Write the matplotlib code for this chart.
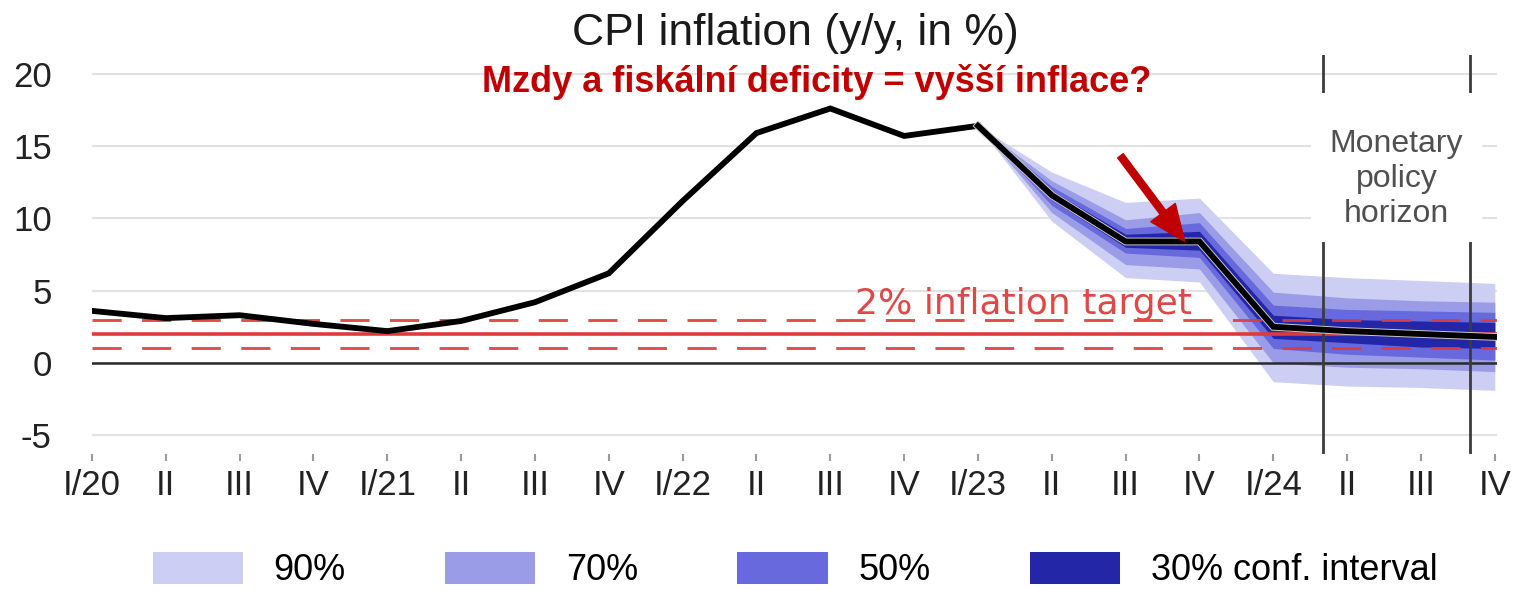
import numpy as np
import matplotlib
matplotlib.use("Agg")
import matplotlib.pyplot as plt
from matplotlib.patches import Patch
import matplotlib.patheffects as pe

plt.rcParams['font.family'] = ['Liberation Sans', 'DejaVu Sans']
plt.rcParams['axes.unicode_minus'] = False

quarters = ["I/20", "II", "III", "IV", "I/21", "II", "III", "IV", "I/22", "II", "III", "IV",
            "I/23", "II", "III", "IV", "I/24", "II", "III", "IV"]
cpi = [3.6, 3.1, 3.3, 2.7, 2.2, 2.9, 4.2, 6.2, 11.2, 15.9, 17.6, 15.7,
       16.4, 11.6, 8.4, 8.4, 2.5, 2.2, 2.0, 1.8]
fan_start = 12  # I/23, fan starts here

# confidence bands from I/23 to IV/24
band90_hi = [16.4, 13.2, 11.1, 11.4, 6.2, 5.9, 5.7, 5.5]
band70_hi = [16.4, 12.6, 9.9, 10.4, 4.9, 4.5, 4.3, 4.2]
band50_hi = [16.4, 12.2, 9.3, 9.7, 4.0, 3.7, 3.6, 3.5]
band30_hi = [16.4, 11.9, 8.9, 9.1, 3.3, 3.0, 2.9, 2.8]
band30_lo = [16.4, 11.3, 8.0, 7.8, 1.7, 1.4, 1.1, 1.0]
band50_lo = [16.4, 10.9, 7.6, 7.3, 1.0, 0.6, 0.4, 0.2]
band70_lo = [16.4, 10.4, 6.8, 6.5, 0.0, -0.3, -0.4, -0.6]
band90_lo = [16.4, 9.8, 5.9, 5.6, -1.3, -1.6, -1.7, -1.9]

target = 2.0
tolerance = 1.0
horizon_lines = [16.67, 18.67]
yticks = [-5, 0, 5, 10, 15, 20]

c90, c70, c50, c30 = '#cdcef3', '#9a9ce8', '#6769dd', '#2326a6'
red = '#df3a3a'

W, H = 1518, 590
fig = plt.figure(figsize=(W / 100, H / 100), dpi=100)
ax = fig.add_axes([92 / W, 1 - 454 / H, 1405 / W, 399 / H])

x = np.arange(len(quarters))
xf = x[fan_start:]

ax.fill_between(xf, band90_lo, band90_hi, color=c90, lw=0, zorder=2)
ax.fill_between(xf, band70_lo, band70_hi, color=c70, lw=0, zorder=2)
ax.fill_between(xf, band50_lo, band50_hi, color=c50, lw=0, zorder=2)
ax.fill_between(xf, band30_lo, band30_hi, color=c30, lw=0, zorder=2)

ax.axhline(target, color=red, lw=2.6, zorder=3)
ax.axhline(target + tolerance, color=red, lw=2.1, ls=(0, (10, 7)), alpha=0.9, zorder=3)
ax.axhline(target - tolerance, color=red, lw=2.1, ls=(0, (10, 7)), alpha=0.9, zorder=3)
ax.axhline(0, color='#2a2a2a', lw=1.8, zorder=3)
for hx in horizon_lines:
    ax.axvline(hx, color='#3c3c3c', lw=2.0, zorder=3)

ax.plot(x[:fan_start + 1], cpi[:fan_start + 1], color='black', lw=4.2, zorder=5,
        solid_joinstyle='miter')
ax.plot(xf, cpi[fan_start:], color='black', lw=4.2, zorder=5, solid_joinstyle='miter',
        path_effects=[pe.Stroke(linewidth=5.6, foreground='#c8c8c8'), pe.Normal()])

ax.text(10.34, 3.35, "2% inflation target", color='#e04848', fontsize=26,
        family=['DejaVu Sans'], va='baseline', ha='left', zorder=4)
ax.text(17.67, 12.75, "Monetary\npolicy\nhorizon", color='#505050', fontsize=23,
        ha='center', va='center', linespacing=1.22, zorder=4)
# white box hiding grid and horizon lines behind the label
ax.text(17.67, 13.5, " " * 14 + "\n\n", fontsize=23, ha='center', va='center',
        linespacing=1.25, zorder=3.5,
        bbox=dict(facecolor='white', edgecolor='none', pad=17))

ax.annotate("", xy=(14.8, 8.4), xytext=(13.93, 14.33),
            arrowprops=dict(facecolor='#c00000', edgecolor='#c00000', width=5,
                            headwidth=22, headlength=26, shrink=0),
            zorder=6)

ax.set_xlim(0, 19.03)
ax.set_ylim(-6.3, 21.3)
ax.set_xticks(x)
ax.set_xticklabels(quarters)
ax.set_yticks(yticks)
ax.grid(axis='y', color='#e2e2e2', lw=1.5, zorder=0)
ax.set_axisbelow(True)
for s in ax.spines.values():
    s.set_visible(False)
ax.tick_params(axis='x', length=5, width=1.5, color='#9a9a9a', pad=6, labelsize=25,
               labelcolor='#222222')
ax.tick_params(axis='y', length=0, pad=29, labelsize=25, labelcolor='#222222')

fig.text(795 / W, 1 - 33 / H, "CPI inflation (y/y, in %)", fontsize=32, ha='center',
         va='center', color='#1a1a1a')
fig.text(817 / W, 1 - 82 / H, "Mzdy a fiskální deficity = vyšší inflace?", fontsize=26,
         fontweight='bold', ha='center', va='center', color='#c00000')

handles = [Patch(facecolor=c, edgecolor='none') for c in (c90, c70, c50, c30)]
fig.legend(handles, ["90%", "70%", "50%", "30% conf. interval"], loc='center',
           bbox_to_anchor=(795 / W, 1 - 570 / H), ncol=4, frameon=False, fontsize=26,
           handlelength=2.5, handleheight=1.0, handletextpad=0.85, columnspacing=2.75)

fig.savefig("out.png", dpi=100)
